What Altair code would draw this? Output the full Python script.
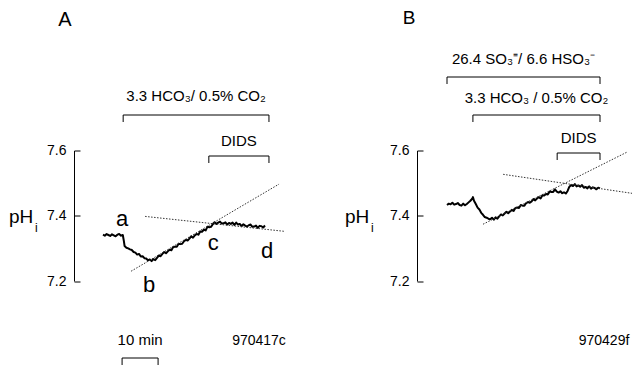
import altair as alt
import pandas as pd

# ---------------- data (time in min, pH) ----------------
tA = [0, 0.5, 1, 1.5, 2, 2.5, 3, 3.5, 4, 4.5, 5, 5.5, 5.8, 6.0, 6.5, 7, 7.5, 8, 8.5, 9, 9.5, 10,
      10.5, 11, 11.5, 12, 12.5, 13, 13.5, 14, 14.5, 15, 15.5, 16, 16.5, 17, 17.5, 18, 18.5, 19, 19.5,
      20, 20.5, 21, 21.5, 22, 22.5, 23, 23.5, 24, 24.5, 25, 25.5, 26, 26.5, 27, 27.5, 28, 28.5, 29,
      29.5, 30, 30.5, 31, 31.5, 32, 32.5, 33, 33.5, 34, 34.5, 35, 35.5, 36, 36.5, 37, 37.5, 38, 38.5,
      39, 39.5, 40, 40.5, 41, 41.5, 42, 42.5, 43, 43.5, 44, 44.5, 45]
phA = [7.342, 7.339, 7.344, 7.341, 7.338, 7.343, 7.340, 7.337, 7.342, 7.344, 7.339, 7.341, 7.322,
       7.307, 7.302, 7.300, 7.297, 7.295, 7.289, 7.287, 7.281, 7.283, 7.275, 7.276, 7.270, 7.269,
       7.263, 7.266, 7.261, 7.267, 7.264, 7.271, 7.278, 7.276, 7.283, 7.289, 7.285, 7.291, 7.296,
       7.294, 7.304, 7.305, 7.305, 7.314, 7.313, 7.314, 7.322, 7.326, 7.324, 7.330, 7.337, 7.333,
       7.340, 7.344, 7.342, 7.352, 7.351, 7.357, 7.355, 7.366, 7.365, 7.366, 7.374, 7.380, 7.375,
       7.379, 7.382, 7.376, 7.377, 7.380, 7.373, 7.378, 7.375, 7.379, 7.372, 7.379, 7.373, 7.375,
       7.368, 7.374, 7.370, 7.367, 7.371, 7.373, 7.366, 7.367, 7.370, 7.363, 7.369, 7.368, 7.364,
       7.370]

tB = [0, 0.5, 1, 1.5, 2, 2.5, 3, 3.5, 4, 4.5, 5, 5.5, 6, 6.5, 7, 7.2, 7.5, 8, 8.5, 9, 9.5, 10,
      10.5, 11, 11.5, 12, 12.5, 13, 13.5, 14, 14.5, 15, 15.5, 16, 16.5, 17, 17.5, 18, 18.5, 19,
      19.5, 20, 20.5, 21, 21.5, 22, 22.5, 23, 23.5, 24, 24.5, 25, 25.5, 26, 26.5, 27, 27.5, 28,
      28.5, 29, 29.5, 30, 30.5, 31, 31.5, 32, 32.5, 33, 33.5, 34, 34.5, 35, 35.5, 36, 36.5, 37,
      37.5, 38, 38.5, 39, 39.5, 40, 40.5, 41, 41.5, 42, 42.5]
phB = [7.433, 7.437, 7.435, 7.440, 7.434, 7.436, 7.439, 7.433, 7.431, 7.437, 7.432, 7.436, 7.441,
       7.446, 7.452, 7.457, 7.446, 7.436, 7.425, 7.419, 7.409, 7.403, 7.396, 7.394, 7.391, 7.389,
       7.394, 7.388, 7.395, 7.391, 7.398, 7.404, 7.401, 7.407, 7.412, 7.408, 7.413, 7.418, 7.415,
       7.424, 7.425, 7.424, 7.433, 7.431, 7.431, 7.439, 7.442, 7.440, 7.444, 7.451, 7.447, 7.453,
       7.457, 7.453, 7.463, 7.462, 7.467, 7.465, 7.474, 7.473, 7.473, 7.481, 7.474, 7.471, 7.475,
       7.469, 7.472, 7.468, 7.476, 7.489, 7.494, 7.491, 7.497, 7.490, 7.493, 7.489, 7.494, 7.486,
       7.488, 7.484, 7.490, 7.483, 7.487, 7.485, 7.481, 7.486, 7.484]

# fitted (dotted) lines: endpoints
fitA_rise_t = [7.8, 48.9]
fitA_rise_ph = [7.230, 7.497]
fitA_flat_t = [11.7, 50.6]
fitA_flat_ph = [7.398, 7.352]
fitB_rise_t = [10.0, 50.0]
fitB_rise_ph = [7.374, 7.595]
fitB_flat_t = [15.6, 53.1]
fitB_flat_ph = [7.527, 7.466]

# solution bars (min)
bracketsA_label = ["3.3 HCO\u2083/ 0.5% CO\u2082", "DIDS"]
bracketsA_start = [5.6, 29.4]
bracketsA_end = [46.1, 46.1]
bracketsB_label = ["26.4  SO\u2083\u207c/ 6.6 HSO\u2083\u207b", "3.3 HCO\u2083 / 0.5% CO\u2082", "DIDS"]
bracketsB_start = [0.0, 7.2, 30.6]
bracketsB_end = [42.5, 42.5, 42.5]
scalebar_label = "10 min"
scalebar_start = 5.3
scalebar_end = 15.3

letters = ["a", "b", "c", "d"]
letters_t = [5.3, 12.8, 30.6, 45.6]
letters_ph = [7.368, 7.165, 7.294, 7.270]

tick_values = [7.2, 7.4, 7.6]
panel_titles = ["A", "B"]
record_ids = ["970417c", "970429f"]

# ---------------- layout ----------------
W, H = 558, 130.5
FONT = "Liberation Sans"

def xenc(domain, field="t"):
    return alt.X(f"{field}:Q", scale=alt.Scale(domain=domain, nice=False, zero=False), axis=None)

def yenc(offset):
    return alt.Y("ph:Q", scale=alt.Scale(domain=[7.2, 7.6], nice=False, zero=False),
                 axis=alt.Axis(orient="right", offset=offset, values=tick_values, format=".1f",
                               tickSize=6, labelPadding=-14, labelAlign="right", labelFontSize=14,
                               labelFont=FONT, labelColor="black", domainColor="black",
                               tickColor="black", grid=False, title=None))

def bracket(start, end, label, row, gap, fsize, xdom):
    df = pd.DataFrame({"t": [start], "t2": [end], "mid": [(start + end) / 2], "lab": [label]})
    ends = pd.DataFrame({"t": [start, end]})
    base = alt.Chart(df)
    h = base.mark_rule(color="black", strokeWidth=1).encode(
        x=xenc(xdom), x2="t2:Q", y=alt.value(row))
    v = alt.Chart(ends).mark_rule(color="black", strokeWidth=1).encode(
        x=xenc(xdom), y=alt.value(row), y2=alt.value(row + 7))
    txt = base.mark_text(font=FONT, fontSize=fsize, baseline="alphabetic", align="center",
                         color="black").encode(
        x=alt.X("mid:Q", scale=alt.Scale(domain=xdom, nice=False, zero=False), axis=None),
        y=alt.value(row - gap), text="lab:N")
    return [h, v, txt]

def panel(t, ph, fits, starts, ends, labels, rows, gaps, sizes, xdom, yoff):
    layers = []
    dfT = pd.DataFrame({"t": t, "ph": ph})
    layers.append(alt.Chart(dfT).mark_line(color="black", strokeWidth=2, strokeJoin="round")
                  .encode(x=xenc(xdom), y=yenc(yoff)))
    for ft, fp in fits:
        layers.append(alt.Chart(pd.DataFrame({"t": ft, "ph": fp}))
                      .mark_line(color="#333333", strokeWidth=1, strokeDash=[1.5, 1.5])
                      .encode(x=xenc(xdom), y=yenc(yoff)))
    for s, e, lab, r, g, fs in zip(starts, ends, labels, rows, gaps, sizes):
        layers += bracket(s, e, lab, r, g, fs, xdom)
    return layers

domA = [(74 - 103) / 3.6, (632 - 103) / 3.6]
domB = [(74 - 447) / 3.6, (632 - 447) / 3.6]

layersA = panel(tA, phA, [(fitA_rise_t, fitA_rise_ph), (fitA_flat_t, fitA_flat_ph)],
                bracketsA_start, bracketsA_end, bracketsA_label,
                [-35.5, 5.5], [14, 10], [15, 15], domA, -W)
# scale bar
layersA += bracket(scalebar_start, scalebar_end, scalebar_label, 207.5, 13, 15, domA)
# letters
dfL = pd.DataFrame({"t": letters_t, "ph": letters_ph, "lab": letters})
layersA.append(alt.Chart(dfL).mark_text(font=FONT, fontSize=22, baseline="alphabetic",
                                        align="center", color="black")
               .encode(x=xenc(domA), y=yenc(-W), text="lab:N"))

layersB = panel(tB, phB, [(fitB_rise_t, fitB_rise_ph), (fitB_flat_t, fitB_flat_ph)],
                bracketsB_start, bracketsB_end, bracketsB_label,
                [-73.5, -35.5, 2.5], [13, 12, 10], [15, 15, 15], domB, -(W - 343))

# free text (pixel placement relative to plot origin)
def label(text, x, y, size, align="center"):
    return alt.Chart(pd.DataFrame({"lab": [text]})).mark_text(
        font=FONT, fontSize=size, baseline="alphabetic", align=align, color="black"
    ).encode(x=alt.value(x), y=alt.value(y), text="lab:N")

extras = [
    label(panel_titles[0], -9, -124.5, 20),
    label(panel_titles[1], 335, -126.5, 19),
    label("pH", -65, 72.5, 19, align="left"),
    label("i", -39, 81.5, 12, align="left"),
    label("pH", 271, 72.5, 19, align="left"),
    label("i", 297, 81.5, 12, align="left"),
    label(record_ids[0], 185, 194.5, 14),
    label(record_ids[1], 530, 194.5, 14),
]

chartA = alt.layer(*layersA)
chartB = alt.layer(*layersB)
chart = alt.layer(chartA, chartB, *extras).resolve_scale(
    x="independent", y="independent"
).properties(
    width=W, height=H,
    padding={"left": 66, "top": 142.5, "right": 0, "bottom": 85},
    autosize=alt.AutoSizeParams(type="none"),
).configure_view(stroke=None)

chart.save("out.html", embed_options={"renderer": "svg", "actions": False})
